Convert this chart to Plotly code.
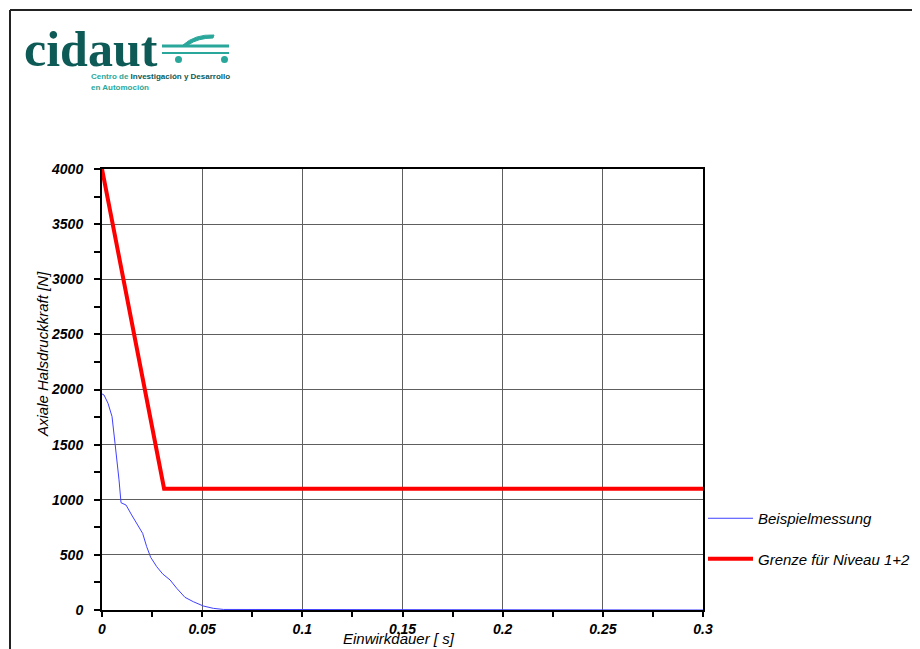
import plotly.graph_objects as go

# ---- data ----
meas_t = [0, 0.001, 0.003, 0.005, 0.0065, 0.0073, 0.0085, 0.0095, 0.012, 0.0148,
          0.0173, 0.0203, 0.0223, 0.0243, 0.0273, 0.0303, 0.034, 0.0373, 0.0414,
          0.0456, 0.0506, 0.0556, 0.0606, 0.3]
meas_f = [1960, 1950, 1875, 1755, 1512, 1390, 1180, 973, 952, 862,
          786, 695, 575, 478, 393, 327, 272, 197, 115,
          75, 36, 15, 5, 0]
limit_t = [0, 0.031, 0.3]
limit_f = [4000, 1100, 1100]

series_names = ["Beispielmessung", "Grenze für Niveau 1+2"]
x_ticks = [0, 0.05, 0.1, 0.15, 0.2, 0.25, 0.3]
x_tick_labels = ["0", "0.05", "0.1", "0.15", "0.2", "0.25", "0.3"]
y_ticks = [0, 500, 1000, 1500, 2000, 2500, 3000, 3500, 4000]
x_title = "Einwirkdauer [ s]"
y_title = "Axiale Halsdruckkraft [N]"

# page is rendered with an 8px body margin; compensate
OFF = 8
W, H = 920 - OFF, 649 - OFF
L, R, T, B = 102, 703, 169, 610   # plot area in page pixels


def px(x):
    return (x - L) / (R - L)


def py(y):
    return (B - y) / (B - T)


FONT = "Liberation Sans, Arial, sans-serif"

fig = go.Figure()
fig.add_trace(go.Scatter(x=meas_t, y=meas_f, mode="lines", name=series_names[0],
                         line=dict(color="#4040ff", width=1), legendgroup="a"))
fig.add_trace(go.Scatter(x=limit_t, y=limit_f, mode="lines", name=series_names[1],
                         line=dict(color="#ff0000", width=4), legendgroup="b"))

tickfont = dict(family=FONT, size=14, color="black", weight="bold", style="italic")

fig.update_xaxes(range=[0, 0.3], tickvals=x_ticks, ticktext=x_tick_labels,
                 showgrid=True, gridcolor="#5e5e5e", gridwidth=1,
                 showline=True, linecolor="black", linewidth=2, mirror=True,
                 ticks="outside", ticklen=5, tickcolor="black", tickwidth=1.5,
                 minor=dict(dtick=0.025, ticks="outside", ticklen=5, tickcolor="black", showgrid=False),
                 tickfont=tickfont, zeroline=False, fixedrange=True, automargin=False)
fig.update_yaxes(range=[0, 4000], tickvals=y_ticks,
                 showgrid=True, gridcolor="#5e5e5e", gridwidth=1,
                 showline=True, linecolor="black", linewidth=2, mirror=True,
                 ticks="outside", ticklen=6, tickcolor="black", tickwidth=1.5,
                 minor=dict(dtick=250, ticks="outside", ticklen=6, tickcolor="black", showgrid=False),
                 ticklabelstandoff=8,
                 tickfont=tickfont, zeroline=False, fixedrange=True, automargin=False)

annotations = [
    dict(text=x_title, x=px(399), y=py(638), xref="paper", yref="paper", showarrow=False,
         font=dict(family=FONT, size=15, color="black", style="italic"),
         xanchor="center", yanchor="middle"),
    dict(text=y_title, x=px(42), y=py(354), xref="paper", yref="paper", showarrow=False,
         textangle=-90,
         font=dict(family=FONT, size=15, color="black", style="italic"),
         xanchor="center", yanchor="middle"),
    # logo text
    dict(text="cidaut", x=px(22), y=py(49), xref="paper", yref="paper", showarrow=False,
         font=dict(family="Liberation Serif, serif", size=50, color="#0d5a57", weight="bold"),
         xanchor="left", yanchor="middle"),
    dict(text="<span style='color:#2aa79b'>Centro de</span> Investigación y Desarrollo",
         x=px(89), y=py(77), xref="paper", yref="paper", showarrow=False,
         font=dict(family="Liberation Sans, sans-serif", size=8,
                   color="#0d5a57", weight="bold"),
         xanchor="left", yanchor="middle"),
    dict(text="en Automoción", x=px(89), y=py(87), xref="paper", yref="paper", showarrow=False,
         font=dict(family="Liberation Sans, sans-serif", size=8,
                   color="#2aa79b", weight="bold"),
         xanchor="left", yanchor="middle"),
]

teal = "#2aa79b"
shapes = [
    # outer page border (top and left)
    dict(type="line", xref="paper", yref="paper", x0=px(10), x1=px(920), y0=py(10), y1=py(10),
         line=dict(color="#222222", width=2)),
    dict(type="line", xref="paper", yref="paper", x0=px(10), x1=px(10), y0=py(10), y1=py(649),
         line=dict(color="#222222", width=2)),
    # logo car
    dict(type="line", xref="paper", yref="paper", x0=px(162), x1=px(229), y0=py(46), y1=py(46),
         line=dict(color=teal, width=3)),
    dict(type="line", xref="paper", yref="paper", x0=px(162), x1=px(229), y0=py(53), y1=py(53),
         line=dict(color=teal, width=2)),
    dict(type="path", xref="paper", yref="paper",
         path=f"M {px(183)},{py(45)} Q {px(195)},{py(34)} {px(214)},{py(35)} L {px(213)},{py(38)} "
              f"Q {px(198)},{py(38)} {px(188)},{py(45)} Z",
         fillcolor=teal, line=dict(color=teal, width=1)),
    dict(type="circle", xref="paper", yref="paper", x0=px(175), x1=px(182), y0=py(56), y1=py(63),
         fillcolor=teal, line=dict(color=teal, width=0)),
    dict(type="circle", xref="paper", yref="paper", x0=px(221), x1=px(228), y0=py(56), y1=py(63),
         fillcolor=teal, line=dict(color=teal, width=0)),
]

fig.update_layout(
    width=W, height=H,
    margin=dict(l=L - OFF, r=W - (R - OFF), t=T - OFF, b=H - (B - OFF), pad=0, autoexpand=False),
    paper_bgcolor="white", plot_bgcolor="white",
    showlegend=True,
    legend=dict(x=px(703), y=py(502), xanchor="left", yanchor="top",
                font=dict(family=FONT, size=15, color="black", style="italic"),
                traceorder="grouped", tracegroupgap=18, bgcolor="rgba(0,0,0,0)",
                itemwidth=45),
    annotations=annotations,
    shapes=shapes,
)

fig.write_html("out.html")
